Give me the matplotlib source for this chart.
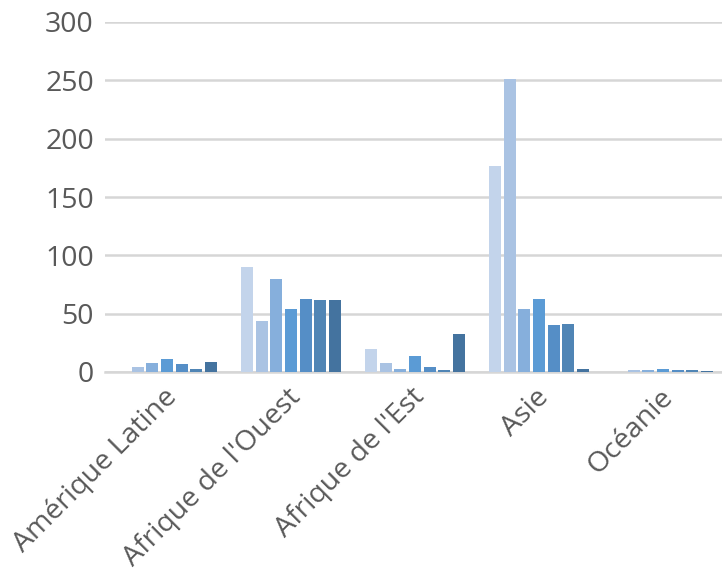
import matplotlib
matplotlib.use("Agg")
import matplotlib.pyplot as plt
import matplotlib.transforms as mtransforms
import numpy as np

categories = ["Amérique Latine", "Afrique de l'Ouest", "Afrique de l'Est", "Asie", "Océanie"]
series_values = [
    [0, 90, 19.5, 177, 0],
    [4, 44, 7.5, 251, 1.5],
    [7.5, 80, 2.2, 54, 1.5],
    [11, 54, 13.5, 63, 2.2],
    [6.5, 63, 4, 40, 1.5],
    [3, 62, 1.4, 41, 1.5],
    [9, 62, 33, 3, 0.7],
]
colors = ["#c3d4eb", "#aac3e3", "#86afdc", "#5b9bd5", "#558ec6", "#5085b5", "#44739f"]
yticks = [0, 50, 100, 150, 200, 250, 300]

plt.rcParams['font.family'] = ['Open Sans', 'DejaVu Sans']

fig = plt.figure(figsize=(7.22, 5.74), dpi=100)
ax = fig.add_axes([105/722, 1 - 372/574, 620/722, 350/574])

x = np.arange(len(categories))
step = 0.118
width = 0.097
n = len(series_values)
for i, vals in enumerate(series_values):
    ax.bar(x + (i - (n - 1) / 2) * step, vals, width=width, color=colors[i], zorder=3)

ax.set_xlim(-0.5, 4.5)
ax.set_ylim(0, 300)
ax.set_yticks(yticks)
ax.set_yticklabels([str(t) for t in yticks])
ax.yaxis.grid(True, color="#d6d6d6", linewidth=1.8, zorder=0)
ax.set_axisbelow(True)
for s in ["top", "right", "left"]:
    ax.spines[s].set_visible(False)
ax.spines["bottom"].set_color("#d6d6d6")
ax.spines["bottom"].set_linewidth(1.8)
ax.tick_params(axis="y", length=0, pad=8, labelsize=20.5, labelcolor="#595959")
ax.tick_params(axis="x", length=0, pad=8, labelsize=20.5, labelcolor="#595959")
ax.set_xticks(x)
ax.set_xticklabels(categories, rotation=45, ha="right", va="top", rotation_mode="anchor")
offset = mtransforms.ScaledTranslation(-4/100, 0, fig.dpi_scale_trans)
for lbl in ax.get_xticklabels():
    lbl.set_transform(lbl.get_transform() + offset)

fig.savefig("out.png", dpi=100)
